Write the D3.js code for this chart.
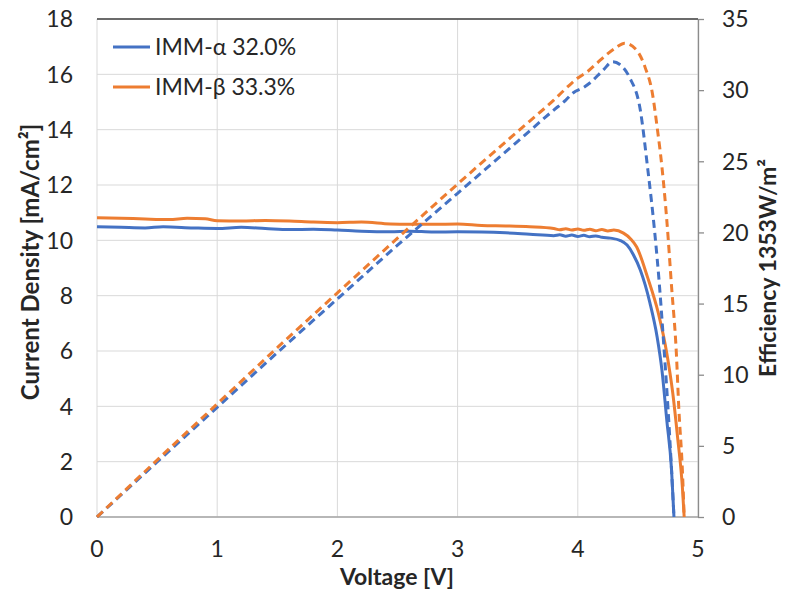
<!DOCTYPE html>
<html lang="en">
<head>
<meta charset="UTF-8">
<script src="https://d3js.org/d3.v7.min.js"></script>
<style>
  body { margin: 0; background: #fff; }
  text { font-family: Lato, "Liberation Sans", sans-serif; fill: #262626; }
</style>
</head>
<body>
<div id="chart"></div>
<script>
// J-V curves (voltage V, current density mA/cm2)
const alphaV = [0, 0.2, 0.4, 0.55, 0.8, 1.0, 1.2, 1.4, 1.6, 1.8, 2.0, 2.2, 2.44, 2.6, 2.8, 3.0, 3.2, 3.4, 3.6, 3.8, 3.85, 3.9, 3.95, 4.0, 4.05, 4.1, 4.15, 4.2, 4.27, 4.35, 4.41, 4.46, 4.52, 4.56, 4.60, 4.66, 4.70, 4.74, 4.78, 4.80];
const alphaJ = [10.49, 10.47, 10.45, 10.49, 10.45, 10.43, 10.47, 10.43, 10.39, 10.40, 10.37, 10.33, 10.31, 10.33, 10.30, 10.31, 10.30, 10.27, 10.22, 10.17, 10.20, 10.15, 10.19, 10.14, 10.18, 10.13, 10.16, 10.11, 10.08, 10.0, 9.83, 9.5, 8.93, 8.4, 7.74, 6.51, 5.31, 3.51, 1.7, 0];

const betaV = [0, 0.2, 0.4, 0.6, 0.75, 0.9, 1.0, 1.2, 1.4, 1.6, 1.8, 2.0, 2.2, 2.44, 2.6, 2.8, 3.0, 3.2, 3.4, 3.6, 3.8, 3.85, 3.9, 3.95, 4.0, 4.05, 4.1, 4.15, 4.2, 4.25, 4.3, 4.38, 4.44, 4.49, 4.58, 4.67, 4.74, 4.79, 4.83, 4.87, 4.885];
const betaJ = [10.82, 10.80, 10.77, 10.75, 10.80, 10.78, 10.71, 10.70, 10.72, 10.70, 10.66, 10.64, 10.66, 10.59, 10.58, 10.58, 10.59, 10.54, 10.52, 10.49, 10.43, 10.38, 10.42, 10.37, 10.41, 10.36, 10.40, 10.35, 10.39, 10.34, 10.37, 10.26, 10.05, 9.76, 8.67, 7.37, 5.93, 4.48, 2.89, 1.08, 0];

// efficiency curves (%)
const alphaEffV = [0, 0.5, 1.0, 1.5, 2.0, 2.5, 3.0, 3.5, 3.8, 3.9, 3.96, 4.05, 4.1, 4.21, 4.29, 4.35, 4.43, 4.52, 4.58, 4.64, 4.68, 4.72, 4.75, 4.78, 4.80];
const alphaEff = [0, 3.87, 7.71, 11.55, 15.33, 19.1, 22.75, 26.4, 28.6, 29.3, 29.8, 30.2, 30.5, 31.4, 32.0, 31.8, 30.9, 28.6, 24.6, 20.0, 16.2, 11.5, 7.7, 3.3, 0];

const betaEffV = [0, 0.5, 1.0, 1.5, 2.0, 2.5, 3.0, 3.5, 3.8, 3.95, 4.0, 4.08, 4.16, 4.24, 4.32, 4.39, 4.49, 4.56, 4.62, 4.66, 4.70, 4.74, 4.78, 4.82, 4.84, 4.87, 4.885];
const betaEff = [0, 4.0, 7.95, 11.9, 15.75, 19.6, 23.4, 27.1, 29.3, 30.5, 30.85, 31.3, 31.9, 32.5, 33.0, 33.3, 32.8, 31.6, 29.8, 27.4, 24.6, 20.9, 16.2, 11.5, 7.7, 3.3, 0];

const legendLabels = ["IMM-\u03b1 32.0%", "IMM-\u03b2 33.3%"];
const colors = ["#4472C4", "#ED7D31"];

const xTicks = [0, 1, 2, 3, 4, 5];
const yTicks = [0, 2, 4, 6, 8, 10, 12, 14, 16, 18];
const y2Ticks = [0, 5, 10, 15, 20, 25, 30, 35];

const width = 789, height = 592;
const m = { left: 97, right: 698, top: 19, bottom: 517 };

const svg = d3.select("#chart").append("svg")
  .attr("width", width).attr("height", height);

const x = d3.scaleLinear().domain([0, 5]).range([m.left, m.right]);
const y = d3.scaleLinear().domain([0, 18]).range([m.bottom, m.top]);
const y2 = d3.scaleLinear().domain([0, 35]).range([m.bottom, m.top]);

// gridlines
svg.append("g").selectAll("line").data(yTicks).join("line")
  .attr("x1", m.left).attr("x2", m.right)
  .attr("y1", d => y(d)).attr("y2", d => y(d))
  .attr("stroke", "#d9d9d9").attr("stroke-width", 1);
svg.append("g").selectAll("line").data(xTicks).join("line")
  .attr("x1", d => x(d)).attr("x2", d => x(d))
  .attr("y1", m.top).attr("y2", m.bottom)
  .attr("stroke", "#d9d9d9").attr("stroke-width", 1);

// top border and bottom axis line
svg.append("line").attr("x1", m.left).attr("x2", m.right).attr("y1", m.top).attr("y2", m.top)
  .attr("stroke", "#404040").attr("stroke-width", 1.3);
svg.append("line").attr("x1", m.left).attr("x2", m.right).attr("y1", m.bottom).attr("y2", m.bottom)
  .attr("stroke", "#a6a6a6").attr("stroke-width", 1.3);

// right axis with outward ticks
const yAxisR = d3.axisRight(y2).tickValues(y2Ticks).tickSize(6).tickSizeOuter(0).tickFormat("");
const gR = svg.append("g").attr("transform", `translate(${m.right},0)`).call(yAxisR);
gR.selectAll("path,line").attr("stroke", "#8c8c8c").attr("stroke-width", 1.3);

// tick labels
svg.append("g").selectAll("text").data(yTicks).join("text")
  .attr("x", 73).attr("y", d => y(d)).attr("dy", "0.36em")
  .attr("text-anchor", "end").style("font-size", "23px").text(d => d);
svg.append("g").selectAll("text").data(y2Ticks).join("text")
  .attr("x", 722).attr("y", d => y2(d)).attr("dy", "0.36em")
  .style("font-size", "23px").text(d => d);
svg.append("g").selectAll("text").data(xTicks).join("text")
  .attr("x", d => x(d)).attr("y", 549).attr("dy", "0.36em")
  .attr("text-anchor", "middle").style("font-size", "23px").text(d => d);

// axis titles
svg.append("text").attr("x", 397).attr("y", 577).attr("dy", "0.36em")
  .attr("text-anchor", "middle").style("font-size", "23px").style("font-weight", "bold")
  .text("Voltage [V]");
svg.append("text").attr("transform", "translate(30,262) rotate(-90)").attr("dy", "0.36em")
  .attr("text-anchor", "middle").style("font-size", "24px").style("font-weight", "bold")
  .text("Current Density [mA/cm\u00b2]");
svg.append("text").attr("transform", "translate(768,268) rotate(-90)").attr("dy", "0.36em")
  .attr("text-anchor", "middle").style("font-size", "23px").style("font-weight", "bold")
  .text("Efficiency 1353W/m\u00b2");

// curves
const line = d3.line().x(d => x(d[0])).y(d => d[1]).curve(d3.curveMonotoneX);
const jSeries = [d3.zip(alphaV, alphaJ), d3.zip(betaV, betaJ)];
const effSeries = [d3.zip(alphaEffV, alphaEff), d3.zip(betaEffV, betaEff)];

const plot = svg.append("g");
jSeries.forEach((s, i) => {
  plot.append("path")
    .attr("d", line(s.map(d => [d[0], y(d[1])])))
    .attr("fill", "none").attr("stroke", colors[i]).attr("stroke-width", 3)
    .attr("stroke-linejoin", "round");
});
effSeries.forEach((s, i) => {
  plot.append("path")
    .attr("d", line(s.map(d => [d[0], y2(d[1])])))
    .attr("fill", "none").attr("stroke", colors[i]).attr("stroke-width", 3)
    .attr("stroke-dasharray", "8,5");
});

// legend
const legend = svg.append("g").selectAll("g").data(legendLabels).join("g")
  .attr("transform", (d, i) => `translate(113,${47 + i * 40})`);
legend.append("line").attr("x1", 0).attr("x2", 37)
  .attr("stroke", (d, i) => colors[i]).attr("stroke-width", 3);
legend.append("text").attr("x", 42).attr("dy", "0.36em")
  .style("font-size", "23px").text(d => d);
</script>
</body>
</html>
